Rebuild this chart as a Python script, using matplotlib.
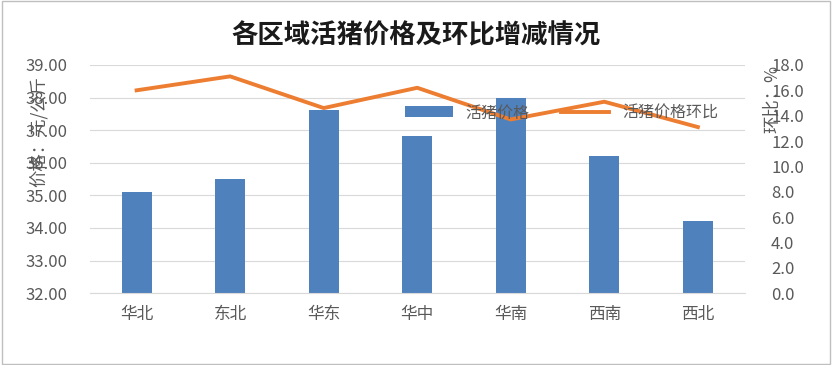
import numpy as np
import matplotlib.pyplot as plt
from matplotlib.patches import Rectangle

plt.rcParams['font.family'] = ['Noto Sans CJK SC', 'DejaVu Sans']

#--------------------------- data ---------------------------------
regions = ['华北', '东北', '华东', '华中', '华南', '西南', '西北']
price = [35.10, 35.50, 37.62, 36.82, 37.99, 36.21, 34.21]
mom = [16.0, 17.1, 14.6, 16.2, 13.7, 15.1, 13.1]
left_ticks = [32, 33, 34, 35, 36, 37, 38, 39]
right_ticks = [0, 2, 4, 6, 8, 10, 12, 14, 16, 18]

grey = '#595959'

fig = plt.figure(figsize=(8.32, 3.65), dpi=100)
ax = fig.add_axes([0.108, 0.197, 0.787, 0.625])
x = np.arange(len(regions))

bars = ax.bar(x, price, width=0.32, color='#4F81BD', label='活猪价格', zorder=2)
ax.set_ylim(32, 39)
ax.set_xlim(-0.5, len(regions) - 0.5)
ax.set_yticks(left_ticks)
ax.set_yticklabels(['%.2f' % t for t in left_ticks])
ax.set_xticks(x)
ax.set_xticklabels(regions)
ax.grid(axis='y', color='#D9D9D9', linewidth=0.8, zorder=0)
ax.set_axisbelow(True)
for s in ['top', 'left', 'right']:
    ax.spines[s].set_visible(False)
ax.spines['bottom'].set_color('#D9D9D9')
ax.tick_params(length=0, colors=grey, labelsize=12)
ax.tick_params(axis='x', pad=9)
ax.tick_params(axis='y', pad=16)

ax2 = ax.twinx()
line, = ax2.plot(x, mom, color='#ED7D31', linewidth=2.8, label='活猪价格环比', zorder=3)
ax2.set_ylim(0, 18)
ax2.set_yticks(right_ticks)
ax2.set_yticklabels(['%.1f' % t for t in right_ticks])
for s in ['top', 'left', 'right', 'bottom']:
    ax2.spines[s].set_visible(False)
ax2.tick_params(length=0, colors=grey, labelsize=12, pad=19)

fig.text(0.046, 0.64, '价格：元/公斤', rotation=90, ha='center', va='center',
         fontsize=12.5, color=grey)
fig.text(0.928, 0.73, '环比：%', rotation=90, ha='center', va='center',
         fontsize=12.5, color=grey)

fig.suptitle('各区域活猪价格及环比增减情况', x=0.5, y=0.94, fontsize=19,
             fontweight='bold', color='#1a1a1a')

ax2.legend([bars, line], ['活猪价格', '活猪价格环比'], loc='center',
           bbox_to_anchor=(0.72, 0.79), ncol=2, frameon=False, fontsize=11.5,
           labelcolor=grey, handlelength=3, columnspacing=2.0)

fig.patches.append(Rectangle((0.002, 0.004), 0.996, 0.992, transform=fig.transFigure,
                             fill=False, edgecolor='#BFBFBF', linewidth=1))

fig.savefig('out.png', dpi=100)
